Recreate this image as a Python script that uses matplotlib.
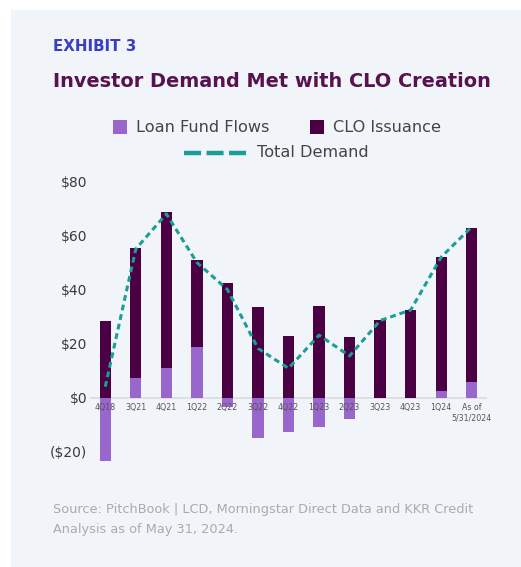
import matplotlib
matplotlib.use("Agg")
import matplotlib.pyplot as plt
from matplotlib.patches import Rectangle
from matplotlib.lines import Line2D

categories = ['4Q18', '3Q21', '4Q21', '1Q22', '2Q22', '3Q22', '4Q22',
              '1Q23', '2Q23', '3Q23', '4Q23', '1Q24', 'As of\n5/31/2024']
loan_fund_flows = [-23.5, 7.3, 10.8, 18.8, -3.4, -15.1, -12.7, -10.8, -8.0, 0.0, 0.0, 2.4, 5.6]
clo_issuance = [28.2, 48.2, 58.0, 32.1, 42.5, 33.6, 22.9, 33.9, 22.5, 28.6, 32.4, 49.7, 57.3]
total_demand = [4.0, 55.0, 68.0, 50.0, 40.0, 18.2, 10.8, 23.1, 15.4, 28.5, 32.4, 52.0, 63.2]
y_ticks = [-20, 0, 20, 40, 60, 80]
y_tick_labels = ['($20)', '$0', '$20', '$40', '$60', '$80']

C_FLOW = '#9966cc'
C_CLO = '#4a0042'
C_TOTAL = '#1b9e97'
BG = '#f1f4f9'

W, H = 521, 567
fig = plt.figure(figsize=(W / 100, H / 100), dpi=100)
fig.patch.set_facecolor('white')
fig.patches.append(Rectangle((11 / W, 0), 1 - 11 / W, 1 - 10 / H, transform=fig.transFigure,
                             facecolor=BG, edgecolor='none', zorder=-5))

ymin, ymax = -26, 82
ax_left, ax_right = 90, 487
ax_top = 397.5 - ymax * 2.7
ax_bot = 397.5 - ymin * 2.7
ax = fig.add_axes([ax_left / W, 1 - ax_bot / H, (ax_right - ax_left) / W, (ax_bot - ax_top) / H])
ax.set_zorder(2)
ax.set_facecolor('none')

x = list(range(len(categories)))
bw = 0.37
clo_bottom = [max(f, 0) for f in loan_fund_flows]
ax.bar(x, loan_fund_flows, width=bw, color=C_FLOW, zorder=2)
ax.bar(x, clo_issuance, width=bw, bottom=clo_bottom, color=C_CLO, zorder=2)
ax.axhline(0, color='#d9dbe0', lw=1.2, zorder=1)
ln, = ax.plot(x, total_demand, color=C_TOTAL, lw=2.2, zorder=3)
ln.set_dashes((1.9, 1.3))

ax.set_xlim(-0.5, len(categories) - 0.5)
ax.set_ylim(ymin, ymax)
ax.set_yticks(y_ticks)
ax.set_yticklabels(y_tick_labels, fontsize=10, color='#3a3a3a')
ax.tick_params(axis='y', length=0, pad=2)
ax.set_xticks([])
for s in ax.spines.values():
    s.set_visible(False)

for xi, lab in zip(x, categories):
    ax.annotate(lab, (xi, 0), xytext=(0, -4), textcoords='offset points',
                ha='center', va='top', fontsize=5.7, color='#555555', zorder=4,
                linespacing=1.15)

# Header texts
fig.text(53 / W, 1 - 46.7 / H, 'EXHIBIT 3', fontsize=10.8, fontweight='bold',
         color='#3a3ec4', va='center', ha='left')
fig.text(53 / W, 1 - 81.5 / H, 'Investor Demand Met with CLO Creation', fontsize=13.9,
         fontweight='bold', color='#57124f', va='center', ha='left')

# Legend
def sq(x0, y0, color):
    fig.patches.append(Rectangle((x0 / W, 1 - (y0 + 14.5) / H), 14.5 / W, 14.5 / H,
                                 transform=fig.transFigure, facecolor=color, edgecolor='none'))

sq(112.7, 119.5, C_FLOW)
fig.text(136 / W, 1 - 127 / H, 'Loan Fund Flows', fontsize=11.6, color='#444444', va='center')
sq(309.7, 119.5, C_CLO)
fig.text(333 / W, 1 - 127 / H, 'CLO Issuance', fontsize=11.6, color='#444444', va='center')
lg = Line2D([184 / W, 246 / W], [1 - 152.5 / H, 1 - 152.5 / H], transform=fig.transFigure,
            color=C_TOTAL, lw=3.2, solid_capstyle='butt', dash_capstyle='butt')
lg.set_dashes((3.83, 1.24))
fig.lines.append(lg)
fig.text(257 / W, 1 - 152.5 / H, 'Total Demand', fontsize=11.6, color='#444444', va='center')

fig.text(53 / W, 1 - 509 / H, 'Source: PitchBook | LCD, Morningstar Direct Data and KKR Credit',
         fontsize=9.3, color='#a8acb2', va='center')
fig.text(53 / W, 1 - 530 / H, 'Analysis as of May 31, 2024.',
         fontsize=9.3, color='#a8acb2', va='center')

fig.savefig('out.png', dpi=100, facecolor=fig.get_facecolor())
